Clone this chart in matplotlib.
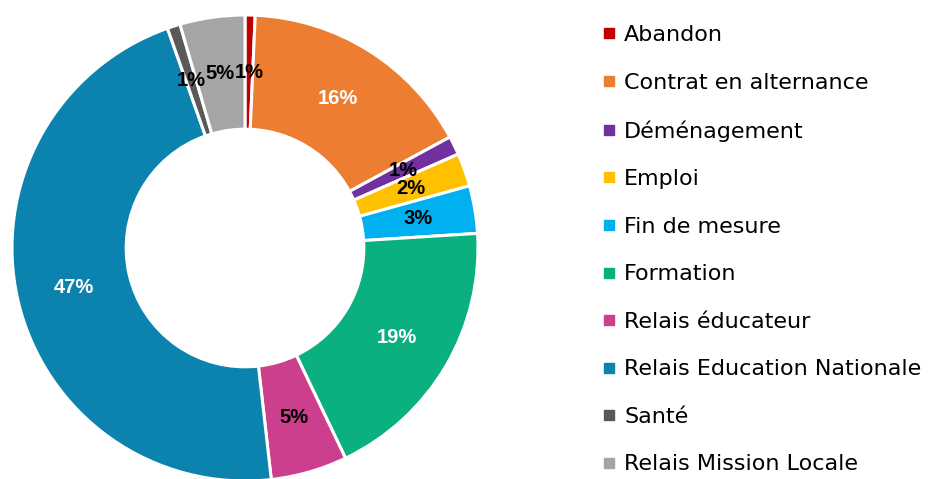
import matplotlib
matplotlib.use('Agg')
import matplotlib.pyplot as plt
from matplotlib.lines import Line2D
import numpy as np

categories = ['Abandon', 'Contrat en alternance', 'Déménagement', 'Emploi',
              'Fin de mesure', 'Formation', 'Relais éducateur',
              'Relais Education Nationale', 'Santé', 'Relais Mission Locale']
shares = [0.7, 16.4, 1.3, 2.3, 3.3, 18.9, 5.3, 46.4, 0.9, 4.5]
pct_labels = ['1%', '16%', '1%', '2%', '3%', '19%', '5%', '47%', '1%', '5%']
colors = ['#C00000', '#ED7D31', '#7030A0', '#FFC000', '#00B0F0',
          '#0BB080', '#CB3F8D', '#0B83AE', '#595959', '#A5A5A5']
label_colors = ['black', 'white', 'black', 'black', 'black',
                'white', 'black', 'white', 'black', 'black']

fig = plt.figure(figsize=(9.34, 4.79), dpi=100)
# donut centred at (245, 248) px, outer radius ~233 px
ax = fig.add_axes([(245 - 234) / 934, (479 - 248 - 234) / 479, 468 / 934, 468 / 479])
R = 233 / 234
width = R * 0.49
wedges, _ = ax.pie(shares, colors=colors, startangle=90, counterclock=False,
                   radius=R, wedgeprops=dict(width=width, edgecolor='white', linewidth=2.2))
ax.set_xlim(-1, 1)
ax.set_ylim(-1, 1)
ax.set_aspect('equal')
ax.axis('off')

r_mid = R - width / 2
cum = np.cumsum([0] + shares)
for i, (lab, col) in enumerate(zip(pct_labels, label_colors)):
    ang = np.deg2rad(90 - (cum[i] + shares[i] / 2) * 3.6)
    ax.text(r_mid * np.cos(ang), r_mid * np.sin(ang), lab, ha='center', va='center',
            color=col, fontsize=14.5, fontweight='bold', family='Liberation Sans')

handles = [Line2D([], [], marker='s', linestyle='none', markersize=7.5,
                  markerfacecolor=c, markeredgecolor=c) for c in colors]
fig.legend(handles, categories, loc='upper left', bbox_to_anchor=(602 / 934, 1 - 25 / 479),
           frameon=False, prop={'family': 'DejaVu Sans', 'size': 16}, labelspacing=1.24,
           handlelength=0.6, handletextpad=0.4, borderpad=0, borderaxespad=0)

fig.savefig('out.png', dpi=100)
